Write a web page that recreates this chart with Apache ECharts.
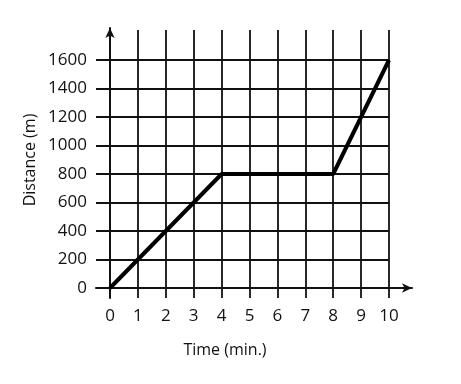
<!DOCTYPE html>
<html><head><meta charset="utf-8">
<script src="https://cdn.jsdelivr.net/npm/echarts@6/dist/echarts.min.js"></script>
<style>html,body{margin:0;padding:0;background:#fff}#c{width:461px;height:384px}</style>
</head><body><div id="c"></div>
<script>
var timeTicks = [0,1,2,3,4,5,6,7,8,9,10];
var distanceTicks = [0,200,400,600,800,1000,1200,1400,1600];
var timeValues = [0,4,8,10];
var distanceValues = [0,800,800,1600];
var xTitle = 'Time (min.)';
var yTitle = 'Distance (m)';

var F = '"Open Sans", sans-serif';
var INK = '#111';
var chart = echarts.init(document.getElementById('c'));
var hidden = {show:false};
chart.setOption({
  animation:false,
  grid:[
    {left:96,right:49,top:28,bottom:86},
    {left:110,right:72,top:30,bottom:86},
    {left:96,right:72,top:60,bottom:96},
    {left:110,right:72,top:60,bottom:96}
  ],
  xAxis:[
    {gridIndex:0,type:'value',min:-0.5,max:10.82,axisLabel:hidden,axisTick:hidden,splitLine:hidden,
     axisLine:{show:true,onZero:true,symbol:['none','arrow'],symbolSize:[7,10],lineStyle:{color:INK,width:2}}},
    {gridIndex:1,type:'value',min:timeTicks[0],max:timeTicks[timeTicks.length-1],interval:1,
     axisLine:hidden,axisTick:hidden,
     splitLine:{show:true,lineStyle:{color:INK,width:1.8}},
     axisLabel:{show:true,margin:10,fontFamily:F,fontSize:17,color:INK,formatter:function(v){return String(v);}}},
    {gridIndex:2,type:'value',min:0,max:1,show:false},
    {gridIndex:3,type:'value',min:timeTicks[0],max:timeTicks[timeTicks.length-1],show:false}
  ],
  yAxis:[
    {gridIndex:0,type:'value',min:-70,max:1825,axisLabel:hidden,axisTick:hidden,splitLine:hidden,
     axisLine:{show:true,onZero:true,symbol:['none','arrow'],symbolSize:[7,10],lineStyle:{color:INK,width:2}}},
    {gridIndex:1,type:'value',min:0,max:1,show:false},
    {gridIndex:2,type:'value',min:distanceTicks[0],max:distanceTicks[distanceTicks.length-1],interval:200,
     axisLine:hidden,axisTick:hidden,
     splitLine:{show:true,lineStyle:{color:INK,width:1.8}},
     axisLabel:{show:true,margin:9,fontFamily:F,fontSize:17,color:INK,formatter:function(v){return String(v);}}},
    {gridIndex:3,type:'value',min:distanceTicks[0],max:distanceTicks[distanceTicks.length-1],show:false}
  ],
  graphic:[
    {type:'text',position:[225,350],style:{text:xTitle,fontFamily:F,fontSize:16,fill:INK,align:'center',verticalAlign:'middle'}},
    {type:'text',position:[30,160],rotation:Math.PI/2,style:{text:yTitle,fontFamily:F,fontSize:16,fill:INK,align:'center',verticalAlign:'middle'}}
  ],
  series:[{
    type:'line',xAxisIndex:3,yAxisIndex:3,
    data:timeValues.map(function(t,i){return [t,distanceValues[i]];}),
    showSymbol:false,symbol:'none',
    lineStyle:{color:'#000',width:4},z:10
  }]
});
</script></body></html>
